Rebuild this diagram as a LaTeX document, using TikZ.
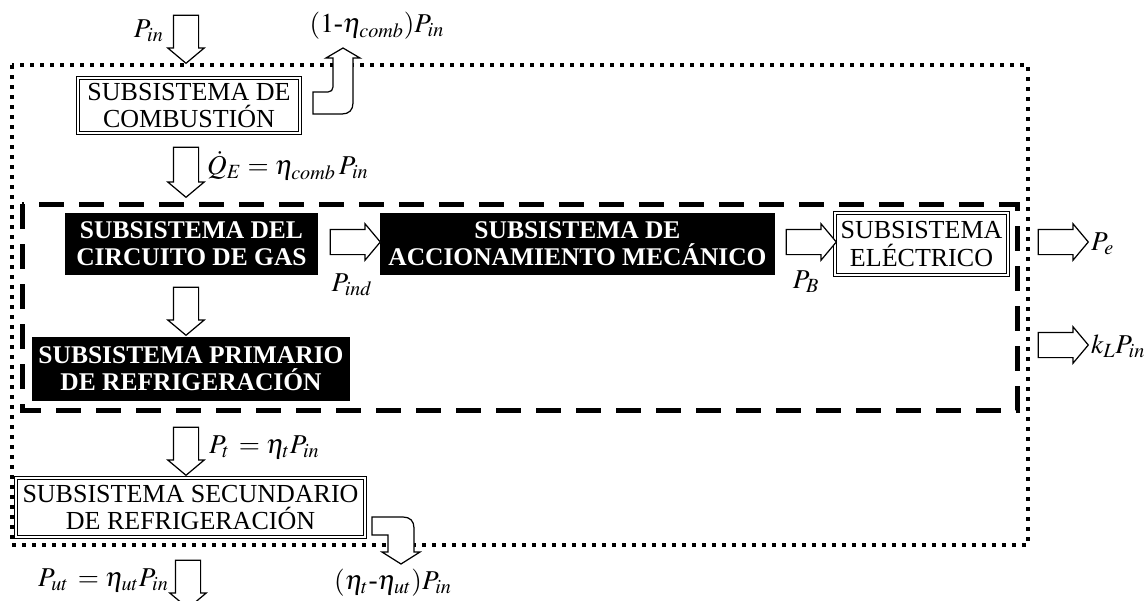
\documentclass[tikz,border=0pt]{standalone}
\usepackage{mathptmx}
\usepackage[no-math]{fontspec}
\setmainfont{Liberation Serif}
\usetikzlibrary{shapes.arrows, positioning}

\begin{document}
\begin{tikzpicture}[
    x=0.2mm, y=-0.2mm,
    font=\fontsize{14.8}{15.5}\selectfont,
    subsys/.style={
        rectangle, draw, double, double distance=0.8pt, line width=0.5pt,
        fill=white, align=center, inner sep=1pt
    },
    darksys/.style={
        rectangle, fill=black, text=white, align=center, inner sep=1pt,
        font=\fontsize{14.5}{15.5}\selectfont\bfseries
    },
    flowarrow/.style={
        single arrow, draw, line width=0.7pt, fill=white,
        inner xsep=0pt, inner ysep=2.4mm, outer sep=0pt,
        single arrow head extend=1.1mm, single arrow tip angle=100,
        minimum height=9.6mm
    },
    downarrow/.style={flowarrow, rotate=-90},
    bentarrow/.style={draw, line width=0.7pt, fill=white, line join=miter},
    lbl/.style={inner sep=0.5pt, font=\fontsize{15.5}{16}\selectfont},
    outerbound/.style={line width=0.8mm, dash pattern=on 0.8mm off 1.2mm},
    innerbound/.style={line width=1mm, dash pattern=on 5mm off 3mm},
]
\useasboundingbox (0,0) rectangle (1144,601);

% --- System boundaries --------------------------------------------------------
\draw[outerbound] (12,65) rectangle (1028,545);
\draw[innerbound] (22,204) rectangle (1017,410);

% --- Subsystems ---------------------------------------------------------------
\node[subsys, minimum width=44.4mm, minimum height=11mm] (comb) at (189,105.5)
    {SUBSISTEMA DE\\COMBUSTIÓN};
\node[darksys, minimum width=50.6mm, minimum height=12.4mm] (gas) at (191.5,244)
    {SUBSISTEMA DEL\\CIRCUITO DE GAS};
\node[darksys, minimum width=79mm, minimum height=12.4mm] (mech) at (577.5,244)
    {SUBSISTEMA DE\\ACCIONAMIENTO MECÁNICO};
\node[subsys, minimum width=34.6mm, minimum height=12.4mm] (elec) at (921.5,244)
    {SUBSISTEMA\\ELÉCTRICO};
\node[darksys, minimum width=63.6mm, minimum height=12.8mm] (prim) at (191,369)
    {SUBSISTEMA PRIMARIO\\DE REFRIGERACIÓN};
\node[subsys, minimum width=69.8mm, minimum height=11.8mm] (sec) at (190.5,507.5)
    {SUBSISTEMA SECUNDARIO\\DE REFRIGERACIÓN};

% --- Power flows --------------------------------------------------------------
\node[downarrow] (ain) at (186,34) {};
\node[downarrow, minimum height=10mm] (aqe) at (186,167) {};
\node[downarrow] (agp) at (186,306) {};
\node[downarrow] (at) at (186,446) {};
\node[downarrow] (aut) at (188,579) {};
\node[flowarrow, minimum height=10mm] (aind) at (350,242) {};
\node[flowarrow, minimum height=10mm] (ab) at (806,242) {};
\node[flowarrow, minimum height=10mm] (ae) at (1058,242) {};
\node[flowarrow, minimum height=10mm] (al) at (1058,345) {};

% --- Losses (bent arrows) -----------------------------------------------------
\draw[bentarrow] (313,92) -- (313,114) -- (342,114)
    .. controls (349,114) and (353,110) .. (353,103) -- (353,58)
    -- (360,58) -- (343,48) -- (326,58) -- (333,58) -- (333,87)
    .. controls (333,90) and (331,92) .. (328,92) -- cycle;
\draw[bentarrow] (372,517) -- (372,535) -- (388,535) -- (388,552)
    -- (382,552) -- (401,564) -- (420,552) -- (414,552) -- (414,528)
    .. controls (414,521) and (410,517) .. (403,517) -- cycle;

% --- Labels -------------------------------------------------------------------
\node[lbl, anchor=east] (lin) at (165,31) {$P_{in}$};
\node[lbl, anchor=west] (lqe) at (206,166) {$\dot{Q}_{E}=\eta_{comb}\,P_{in}$};
\node[lbl] (lcomb) at (377,26) {$(1\mbox{-}\eta_{comb})P_{in}$};
\node[lbl] (lind) at (352,285) {$P_{ind}$};
\node[lbl] (lb) at (806,282) {$P_{B}$};
\node[lbl, anchor=west] (le) at (1090,244) {$P_{e}$};
\node[lbl, anchor=west] (ll) at (1090,346) {$k_{L}P_{in}$};
\node[lbl, anchor=west] (lt) at (208,447) {$P_{t}\,=\eta_{t}P_{in}$};
\node[lbl, anchor=east] (lut) at (170,580) {$P_{ut}\,=\eta_{ut}P_{in}$};
\node[lbl, anchor=west] (ltut) at (333,583) {$(\eta_{t}\mbox{-}\eta_{ut})P_{in}$};

\end{tikzpicture}
\end{document}
